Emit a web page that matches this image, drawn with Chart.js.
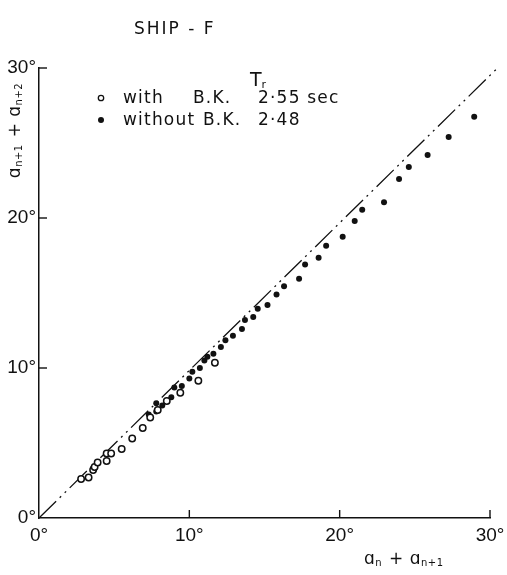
<!DOCTYPE html>
<html lang="en">
<head>
  <meta charset="UTF-8">
  <title>SHIP - F</title>
  <script src="https://cdn.jsdelivr.net/npm/chart.js"></script>
  <style>
    html, body { margin: 0; padding: 0; background: #fff; }
    canvas { display: block; }
  </style>
</head>
<body>
  <canvas id="rollChart" width="507" height="575"></canvas>
  <script>
    // with bilge keel (open circles): a_n + a_n+1 vs a_n+1 + a_n+2
    const withBkX = [2.8, 3.3, 3.6, 3.7, 3.9, 4.5, 4.5, 4.8, 5.5, 6.2, 6.9, 7.4, 7.9, 8.5, 9.4, 10.6, 11.7];
    const withBkY = [2.6, 2.7, 3.2, 3.4, 3.7, 3.8, 4.3, 4.3, 4.6, 5.3, 6.0, 6.7, 7.2, 7.8, 8.35, 9.15, 10.35];

    // without bilge keel (filled dots)
    const withoutBkX = [7.3, 7.8, 7.8, 8.2, 8.8, 9.0, 9.5, 10.0, 10.2, 10.7, 11.0, 11.2, 11.6, 12.1, 12.4, 12.9,
      13.5, 13.7, 14.25, 14.55, 15.2, 15.8, 16.3, 17.3, 17.7, 18.6, 19.1, 20.2, 21.0, 21.5, 22.95, 23.95,
      24.6, 25.85, 27.25, 28.95];
    const withoutBkY = [6.9, 7.65, 7.1, 7.5, 8.05, 8.7, 8.8, 9.3, 9.75, 10.0, 10.5, 10.75, 10.95, 11.4, 11.85, 12.15,
      12.6, 13.2, 13.4, 13.95, 14.2, 14.9, 15.45, 15.95, 16.9, 17.35, 18.15, 18.75, 19.8, 20.55, 21.05, 22.6,
      23.4, 24.2, 25.4, 26.75];

    // 45 degree reference line
    const refLineX = [0, 30.4];
    const refLineY = [0, 29.9];

    const tickValues = [0, 10, 20, 30];
    const legendRows = [
      { label: 'with', keel: 'B.K.', period: '2·55 sec', open: true },
      { label: 'without', keel: 'B.K.', period: '2·48', open: false }
    ];

    const FONT = '"DejaVu Sans", sans-serif';
    const toPoints = (xs, ys) => xs.map((x, i) => ({ x: x, y: ys[i] }));

    // text with subscripts: parts = [[text, isSub], ...]
    const drawParts = (ctx, parts, x, y, size) => {
      let cx = x;
      parts.forEach(([t, sub]) => {
        ctx.font = (sub ? Math.round(size * 0.6) : size) + 'px ' + FONT;
        ctx.fillText(t, cx, sub ? y + size * 0.12 : y);
        cx += ctx.measureText(t).width + (sub ? 1 : 0);
      });
    };
    const partsWidth = (ctx, parts, size) => parts.reduce((w, [t, sub]) => {
      ctx.font = (sub ? Math.round(size * 0.6) : size) + 'px ' + FONT;
      return w + ctx.measureText(t).width + (sub ? 1 : 0);
    }, 0);

    const decorations = {
      id: 'decorations',
      afterDraw(chart) {
        const ctx = chart.ctx;
        const xs = chart.scales.x, ys = chart.scales.y;
        ctx.save();
        ctx.fillStyle = '#111';
        ctx.strokeStyle = '#111';
        ctx.textBaseline = 'alphabetic';
        ctx.textAlign = 'left';

        // inward tick marks
        ctx.lineWidth = 1.4;
        tickValues.slice(1).forEach(v => {
          const px = xs.getPixelForValue(v);
          ctx.beginPath();
          ctx.moveTo(px, ys.bottom);
          ctx.lineTo(px, ys.bottom - 8);
          ctx.stroke();
          const py = ys.getPixelForValue(v);
          ctx.beginPath();
          ctx.moveTo(xs.left, py);
          ctx.lineTo(xs.left + 8, py);
          ctx.stroke();
        });

        // title
        ctx.letterSpacing = '2px';
        ctx.font = '17px ' + FONT;
        ctx.fillText('SHIP - F', 134, 34);

        // legend
        ctx.letterSpacing = '0px';
        drawParts(ctx, [['T', false], ['r', true]], 250, 86, 19);
        ctx.letterSpacing = '1.2px';
        legendRows.forEach((row, i) => {
          const y = 103 + i * 22;
          ctx.beginPath();
          ctx.arc(101, y - 5, row.open ? 2.7 : 3, 0, Math.PI * 2);
          if (row.open) { ctx.lineWidth = 1.3; ctx.stroke(); } else { ctx.fill(); }
          ctx.font = '17px ' + FONT;
          ctx.fillText(row.label, 123, y);
          ctx.fillText(row.keel, i === 0 ? 193 : 203, y);
          ctx.fillText(row.period, 258, y);
        });
        ctx.letterSpacing = '0.5px';

        // x axis title
        const xTitle = [['ɑ', false], ['n', true], [' + ', false], ['ɑ', false], ['n+1', true]];
        drawParts(ctx, xTitle, 364, 564, 17);

        // y axis title (rotated)
        const yTitle = [['ɑ', false], ['n+1', true], [' + ', false], ['ɑ', false], ['n+2', true]];
        const w = partsWidth(ctx, yTitle, 17);
        ctx.translate(20, 130);
        ctx.rotate(-Math.PI / 2);
        drawParts(ctx, yTitle, -w / 2, 0, 17);
        ctx.restore();
      }
    };

    const axisOptions = (fit, pad) => ({
      type: 'linear',
      min: 0,
      max: 30,
      grid: { display: false, drawTicks: false, tickLength: 0 },
      border: { display: true, color: '#111', width: 1.5 },
      ticks: {
        stepSize: 10,
        color: '#111',
        font: { family: '"Liberation Sans", sans-serif', size: 19 },
        padding: pad,
        callback: v => v + '°'
      },
      afterFit: fit
    });

    new Chart(document.getElementById('rollChart').getContext('2d'), {
      type: 'scatter',
      data: {
        datasets: [
          {
            label: 'with B.K.',
            data: toPoints(withBkX, withBkY),
            pointStyle: 'circle',
            pointRadius: 3.2,
            pointBorderWidth: 1.5,
            pointBackgroundColor: '#fff',
            pointBorderColor: '#111'
          },
          {
            label: 'without B.K.',
            data: toPoints(withoutBkX, withoutBkY),
            pointStyle: 'circle',
            pointRadius: 3,
            pointBorderWidth: 0,
            pointBackgroundColor: '#111',
            pointBorderColor: '#111'
          },
          {
            type: 'line',
            label: 'reference',
            data: toPoints(refLineX, refLineY),
            borderColor: '#111',
            borderWidth: 1.3,
            borderDash: [24, 5, 2, 5, 2, 5],
            pointRadius: 0,
            clip: false,
            order: 5
          }
        ]
      },
      options: {
        responsive: false,
        animation: false,
        devicePixelRatio: 1,
        layout: { padding: { top: 68, right: 17, bottom: 0, left: 0 } },
        plugins: { legend: { display: false }, tooltip: { enabled: false } },
        scales: {
          // fixed axis sizes so the plot area keeps its place
          x: axisOptions(s => { s.height = 57; s.paddingLeft = 0; s.paddingRight = 0; }, 6),
          y: axisOptions(s => { s.width = 39; s.paddingTop = 0; s.paddingBottom = 0; }, 3)
        }
      },
      plugins: [decorations]
    });
  </script>
</body>
</html>
